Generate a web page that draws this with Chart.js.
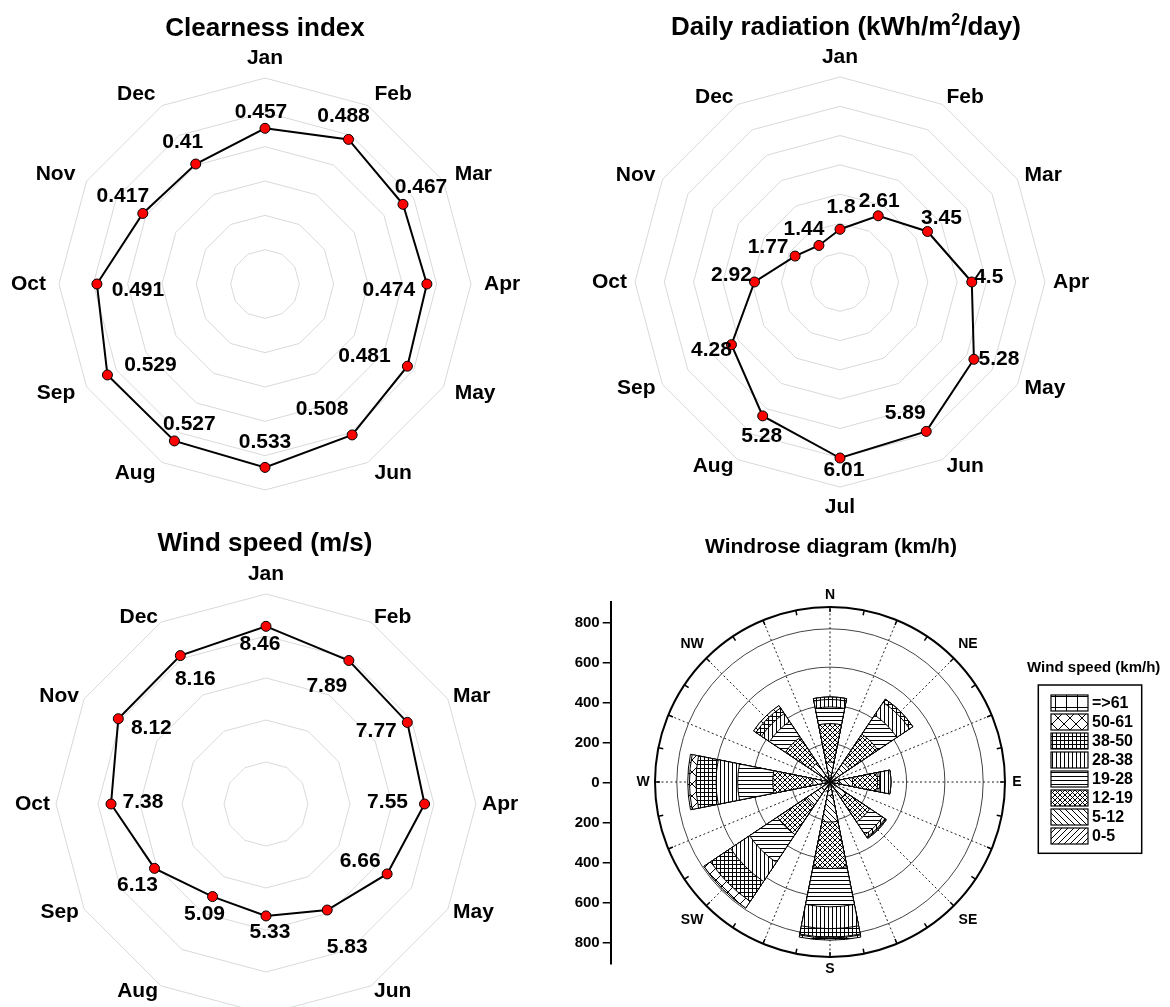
<!DOCTYPE html>
<html>
<head>
<meta charset="utf-8">
<script src="https://cdn.jsdelivr.net/npm/chart.js@4.4.0/dist/chart.umd.min.js"></script>
<style>
  html, body { margin: 0; padding: 0; background: #fff; overflow: hidden; }
  body { width: 1170px; height: 1007px; position: relative; font-family: "Liberation Sans", Arial, sans-serif; }
  .pane { position: absolute; background: #fff; }
  .pane canvas { display: block; }
  .ttl { position: absolute; width: 600px; text-align: center; font-weight: bold; color: #000; line-height: 1; white-space: nowrap; z-index: 5; }
  .sup { font-size: 16px; position: relative; top: -10px; }
</style>
</head>
<body>

<div class="pane" style="left:0;top:0;"><canvas id="clearChart" width="570" height="510"></canvas></div>
<div class="pane" style="left:580px;top:0;"><canvas id="radChart" width="590" height="520"></canvas></div>
<div class="pane" style="left:0;top:494px;"><canvas id="windChart" width="570" height="560"></canvas></div>
<div class="pane" style="left:560px;top:520px;"><canvas id="roseChart" width="610" height="487"></canvas></div>

<div class="ttl" style="left:-35px;top:14px;font-size:26px;">Clearness index</div>
<div class="ttl" style="left:546px;top:13px;font-size:26px;">Daily radiation (kWh/m<span class="sup">2</span>/day)</div>
<div class="ttl" style="left:-35px;top:529px;font-size:26px;">Wind speed (m/s)</div>
<div class="ttl" style="left:531px;top:535px;font-size:21px;">Windrose diagram (km/h)</div>

<script>
// monthly data
const months = ['Jan', 'Feb', 'Mar', 'Apr', 'May', 'Jun', 'Jul', 'Aug', 'Sep', 'Oct', 'Nov', 'Dec'];
const clearness = [0.457, 0.488, 0.467, 0.474, 0.481, 0.508, 0.533, 0.527, 0.529, 0.491, 0.417, 0.41];
const radiation = [1.8, 2.61, 3.45, 4.5, 5.28, 5.89, 6.01, 5.28, 4.28, 2.92, 1.77, 1.44];
const windSpeed = [8.46, 7.89, 7.77, 7.55, 6.66, 5.83, 5.33, 5.09, 6.13, 7.38, 8.12, 8.16];

// windrose: counts per direction for each speed class
const directions = ['N', 'NNE', 'NE', 'ENE', 'E', 'ESE', 'SE', 'SSE', 'S', 'SSW', 'SW', 'WSW', 'W', 'WNW', 'NW', 'NNW'];
const speedClasses = ['0-5', '5-12', '12-19', '19-28', '28-38', '38-50', '50-61', '=>61'];
const ws0_5   = [35, 0, 40, 0, 49, 0, 40, 0, 70, 0, 50, 0, 40, 0, 40, 0];
const ws5_12  = [69, 0, 80, 0, 69, 0, 60, 0, 139, 0, 100, 0, 50, 0, 80, 0];
const ws12_19 = [201, 0, 180, 0, 131, 0, 150, 0, 243, 0, 180, 0, 209, 0, 160, 0];
const ws19_28 = [87, 0, 120, 0, 11, 0, 80, 0, 200, 0, 175, 0, 183, 0, 100, 0];
const ws28_38 = [39, 0, 80, 0, 58, 0, 15, 0, 114, 0, 120, 0, 113, 0, 50, 0];
const ws38_50 = [13, 0, 20, 0, 0, 0, 5, 0, 44, 0, 125, 0, 105, 0, 35, 0];
const ws50_61 = [0, 0, 0, 0, 0, 0, 4, 0, 5, 0, 42, 0, 34, 0, 15, 0];
const ws61    = [0, 0, 0, 0, 0, 0, 0, 0, 11, 0, 0, 0, 9, 0, 0, 0];
const roseRings = [200, 400, 600, 800];
const roseAxisTicks = [-800, -600, -400, -200, 0, 200, 400, 600, 800];

const FONT = '"Liberation Sans", Arial, sans-serif';

// where the value labels sit relative to their point (px)
const clearOffsets = [[-4, -16], [-5, -23], [18, -17], [-38, 6], [-43, -10], [-30, -26], [0, -25], [15, -17], [43, -10], [41, 6], [-20, -17], [-13, -22]];
const radOffsets = [[1, -22], [1, -15], [14, -13], [17, -5], [25, 0], [-21, -18], [4, 12], [-1, 20], [-20, 6], [-23, -7], [-27, -9], [-15, -16]];
const windOffsets = [[-6, 18], [-22, 26], [-31, 9], [-37, -2], [-27, -13], [20, 37], [4, 16], [-8, 18], [-17, 17], [32, -2], [33, 9], [15, 24]];

// month names (excel style anchoring) + value labels for the radar charts
const radarLabels = {
  id: 'radarLabels',
  afterDatasetsDraw(chart, args, opts) {
    const s = chart.scales.r;
    const ctx = chart.ctx;
    ctx.save();
    ctx.fillStyle = '#000';
    ctx.textBaseline = 'middle';
    ctx.font = 'bold 21px ' + FONT;
    chart.data.labels.forEach((lab, i) => {
      const deg = Math.round(s.getIndexAngle(i) * 180 / Math.PI) % 360;
      const vertical = deg % 180 === 0;
      const p = s.getPointPosition(i, s.drawingArea + (vertical ? opts.gapTop : opts.gapSide));
      let y = p.y;
      if (deg === 0) { ctx.textAlign = 'center'; y -= 8; }
      else if (deg === 180) { ctx.textAlign = 'center'; y += 8; }
      else ctx.textAlign = deg < 180 ? 'left' : 'right';
      ctx.fillText(lab, p.x, y);
    });
    ctx.textAlign = 'center';
    const ds = chart.data.datasets[0];
    chart.getDatasetMeta(0).data.forEach((pt, i) => {
      const o = opts.offsets[i];
      ctx.fillText(String(ds.data[i]), pt.x + o[0], pt.y + o[1]);
    });
    ctx.restore();
  }
};

function radarConfig(values, min, max, rings, pad, labelOpts) {
  return {
    type: 'radar',
    data: {
      labels: months,
      datasets: [{
        data: values,
        borderColor: '#000',
        borderWidth: 2,
        pointBackgroundColor: '#ff0000',
        pointBorderColor: '#000',
        pointBorderWidth: 1,
        pointRadius: 5,
        fill: false,
        tension: 0
      }]
    },
    options: {
      responsive: false,
      animation: false,
      layout: { padding: pad },
      plugins: {
        legend: { display: false },
        tooltip: { enabled: false },
        radarLabels: labelOpts
      },
      scales: {
        r: {
          min: min,
          max: max,
          ticks: { display: false, count: rings + 1 },
          grid: { color: '#d9d9d9', lineWidth: 1 },
          angleLines: { display: false },
          pointLabels: { display: false }
        }
      }
    },
    plugins: [radarLabels]
  };
}

new Chart(document.getElementById('clearChart'),
  radarConfig(clearness, 0.03, 0.595, 6, { left: 59.5, right: 98.5, top: 78, bottom: 20 },
    { gapTop: 12, gapSide: 13, offsets: clearOffsets }));

new Chart(document.getElementById('radChart'),
  radarConfig(radiation, 0, 7, 7, { left: 55, right: 125, top: 77, bottom: 33 },
    { gapTop: 12, gapSide: 8, offsets: radOffsets }));

new Chart(document.getElementById('windChart'),
  radarConfig(windSpeed, 0, 10, 5, { left: 55.5, right: 93.5, top: 99.5, bottom: 39.5 },
    { gapTop: 12, gapSide: 6, offsets: windOffsets }));

// hatch patterns for the speed classes
function hatch(size, painter) {
  const c = document.createElement('canvas');
  c.width = size; c.height = size;
  const g = c.getContext('2d');
  g.fillStyle = '#fff';
  g.fillRect(0, 0, size, size);
  g.strokeStyle = '#000';
  g.fillStyle = '#000';
  g.lineWidth = 1;
  painter(g, size);
  return g.createPattern(c, 'repeat');
}
const slash = (g, s) => {
  g.beginPath();
  g.moveTo(-1, s + 1); g.lineTo(s + 1, -1);
  g.moveTo(-1, 1); g.lineTo(1, -1);
  g.moveTo(s - 1, s + 1); g.lineTo(s + 1, s - 1);
  g.stroke();
};
const backslash = (g, s) => {
  g.beginPath();
  g.moveTo(-1, -1); g.lineTo(s + 1, s + 1);
  g.moveTo(s - 1, -1); g.lineTo(s + 1, 1);
  g.moveTo(-1, s - 1); g.lineTo(1, s + 1);
  g.stroke();
};
const horiz = (g, s) => g.fillRect(0, 0, s, 1);
const vert = (g, s) => g.fillRect(0, 0, 1, s);

const patterns = [
  hatch(6, slash),
  hatch(6, backslash),
  hatch(5, (g, s) => { slash(g, s); backslash(g, s); }),
  hatch(4, horiz),
  hatch(4, vert),
  hatch(4, (g, s) => { horiz(g, s); vert(g, s); }),
  hatch(12, (g, s) => { slash(g, s); backslash(g, s); }),
  hatch(11, (g, s) => { horiz(g, s); vert(g, s); })
];

// stack the classes: each dataset is the running total, smallest drawn on top
const classes = [ws0_5, ws5_12, ws12_19, ws19_28, ws28_38, ws38_50, ws50_61, ws61];
let running = directions.map(() => 0);
const roseSets = classes.map((cls, k) => {
  running = running.map((v, i) => v + cls[i]);
  return {
    label: speedClasses[k],
    data: running.slice(),
    backgroundColor: patterns[k],
    borderColor: '#000',
    borderWidth: 1
  };
});

const roseDecor = {
  id: 'roseDecor',
  beforeDatasetsDraw(chart) {
    const s = chart.scales.r;
    const ctx = chart.ctx;
    const R = s.drawingArea;
    ctx.save();
    ctx.strokeStyle = '#222';
    ctx.lineWidth = 1;
    ctx.setLineDash([2, 2.5]);
    for (let i = 0; i < directions.length; i++) {
      const p = s.getPointPosition(i + 0.5, R);
      ctx.beginPath();
      ctx.moveTo(s.xCenter, s.yCenter);
      ctx.lineTo(p.x, p.y);
      ctx.stroke();
    }
    ctx.setLineDash([]);
    ctx.strokeStyle = '#000';
    ctx.lineWidth = 1.5;
    for (let i = 0; i < directions.length * 2; i++) {
      const a = s.getPointPosition(i / 2 + 0.5, R);
      const b = s.getPointPosition(i / 2 + 0.5, R - 5);
      ctx.beginPath();
      ctx.moveTo(a.x, a.y);
      ctx.lineTo(b.x, b.y);
      ctx.stroke();
    }
    ctx.restore();
  },
  afterDraw(chart) {
    const s = chart.scales.r;
    const ctx = chart.ctx;
    const R = s.drawingArea;
    ctx.save();
    ctx.fillStyle = '#000';
    ctx.textAlign = 'center';
    ctx.textBaseline = 'middle';
    ctx.font = 'bold 14px ' + FONT;
    for (let i = 0; i < directions.length; i += 2) {
      const sn = Math.abs(Math.sin(2 * s.getIndexAngle(i + 0.5)));
      const p = s.getPointPosition(i + 0.5, R + 12 + 8 * sn);
      ctx.fillText(directions[i], p.x, p.y);
    }

    // legend
    ctx.font = 'bold 15px ' + FONT;
    ctx.fillText('Wind speed (km/h)', 533.7, 148);
    ctx.lineWidth = 1.5;
    ctx.strokeStyle = '#000';
    ctx.strokeRect(478.3, 165, 103.4, 168.3);
    ctx.font = 'bold 16px ' + FONT;
    ctx.textAlign = 'left';
    const sets = chart.data.datasets;
    for (let r = 0; r < sets.length; r++) {
      const ds = sets[sets.length - 1 - r];
      const y = 175 + r * 19;
      ctx.fillStyle = ds.backgroundColor;
      ctx.fillRect(491, y, 37, 16);
      ctx.lineWidth = 1.2;
      ctx.strokeRect(491, y, 37, 16);
      ctx.fillStyle = '#000';
      ctx.fillText(ds.label, 532, y + 8.5);
    }
    ctx.restore();
  }
};

new Chart(document.getElementById('roseChart'), {
  type: 'polarArea',
  data: { labels: directions, datasets: roseSets },
  options: {
    responsive: false,
    animation: false,
    layout: { padding: { left: 10.7, right: 119.3, top: 81.7, bottom: 43.7 } },
    plugins: { legend: { display: false }, tooltip: { enabled: false } },
    scales: {
      r: {
        min: 0,
        max: 914,
        startAngle: -11.25,
        ticks: { display: false, stepSize: 200 },
        grid: {
          circular: true,
          color: ctx => (ctx.tick && roseRings.indexOf(ctx.tick.value) < 0) ? '#000' : '#444',
          lineWidth: ctx => (ctx.tick && roseRings.indexOf(ctx.tick.value) < 0) ? 2 : 1
        },
        angleLines: { display: false },
        pointLabels: { display: false },
        afterFit: s => { s.drawingArea = Math.round(s.drawingArea * 0.97); }
      },
      y: {
        type: 'linear',
        position: 'left',
        min: -904,
        max: 904,
        afterFit: s => { s.width = 40; },
        afterBuildTicks: s => { s.ticks = roseAxisTicks.map(v => ({ value: v })); },
        ticks: {
          color: '#000',
          padding: 3,
          font: { family: FONT, size: 15, weight: 'bold' },
          callback: v => Math.abs(v)
        },
        grid: { drawOnChartArea: false, drawTicks: true, tickLength: 8, color: '#000', lineWidth: 1.5 },
        border: { display: true, color: '#000', width: 2 }
      }
    }
  },
  plugins: [roseDecor]
});
</script>
</body>
</html>
